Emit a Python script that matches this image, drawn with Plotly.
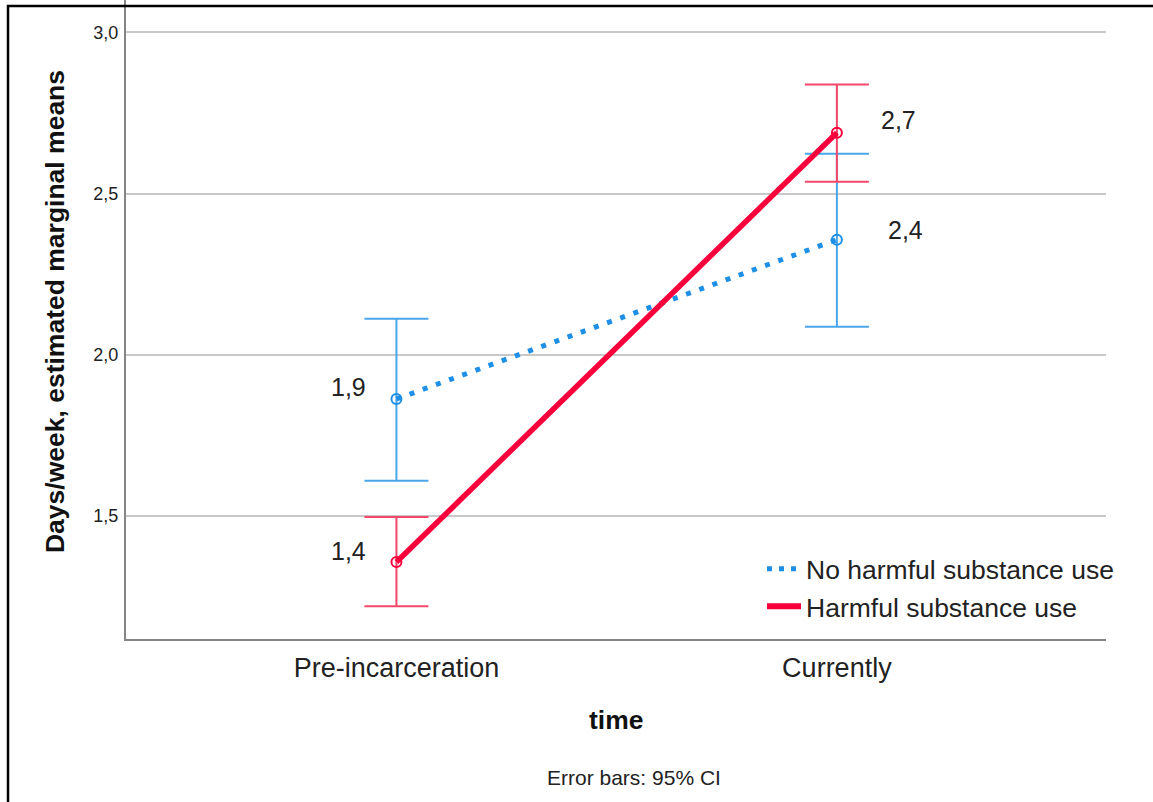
import plotly.graph_objects as go

# ---- data ----
time_points = ["Pre-incarceration", "Currently"]
x_pos = [0, 1]
series_names = ["No harmful substance use", "Harmful substance use"]
no_harm_mean = [1.863, 2.357]
no_harm_upper = [2.112, 2.624]
no_harm_lower = [1.609, 2.087]
harm_mean = [1.357, 2.689]
harm_upper = [1.497, 2.839]
harm_lower = [1.220, 2.537]
y_ticks = [1.5, 2.0, 2.5, 3.0]

BLUE = "#1e8fe6"
BLUE_EB = "#4aa6ea"
RED = "#f7003b"
RED_EB = "#f3476a"
FONT = "Liberation Sans, Arial, sans-serif"

fig = go.Figure()

def add_series(mean, upper, lower, color, eb_color, dash, width):
    fig.add_trace(go.Scatter(
        x=x_pos, y=mean, mode="lines+markers", showlegend=False,
        line=dict(color=color, width=width, dash=dash),
        marker=dict(symbol="circle-open", size=10, color=color, line=dict(width=2, color=color)),
        error_y=dict(type="data", symmetric=False,
                     array=[u - m for u, m in zip(upper, mean)],
                     arrayminus=[m - l for m, l in zip(mean, lower)],
                     color=eb_color, thickness=2, width=32),
    ))

add_series(no_harm_mean, no_harm_upper, no_harm_lower, BLUE, BLUE_EB, "5px,9px", 5)
add_series(harm_mean, harm_upper, harm_lower, RED, RED_EB, "solid", 5.5)

# legend-only traces
fig.add_trace(go.Scatter(x=[None], y=[None], mode="lines", name=series_names[0],
                         line=dict(color=BLUE, width=5, dash="5px,7px")))
fig.add_trace(go.Scatter(x=[None], y=[None], mode="lines", name=series_names[1],
                         line=dict(color=RED, width=6)))

def lab(v):
    return f"{v:.1f}".replace(".", ",")

# value labels
label_specs = [
    (0, no_harm_mean[0], "right", -28, 12),
    (0, harm_mean[0], "right", -28, 11),
    (1, harm_mean[1], "left", 42, 13),
    (1, no_harm_mean[1], "left", 49, 10),
]
for xv, yv, anc, xs, ys in label_specs:
    fig.add_annotation(x=xv, y=yv, text=lab(yv), showarrow=False, xanchor=anc,
                       xshift=xs, yshift=ys, font=dict(size=25, color="#222", family=FONT))

# axis title / footnote
fig.add_annotation(x=-0.0724, y=0.5117, xref="paper", yref="paper", textangle=-90,
                   text="<b>Days/week, estimated marginal means</b>", showarrow=False,
                   xanchor="center", yanchor="middle",
                   font=dict(size=26.5, color="#111", family=FONT))
fig.add_annotation(x=0.5, y=-0.1268, xref="paper", yref="paper",
                   text="<b>time</b>", showarrow=False, xanchor="center", yanchor="middle",
                   font=dict(size=26.5, color="#111", family=FONT))
fig.add_annotation(x=0.518, y=-0.216, xref="paper", yref="paper",
                   text="Error bars: 95% CI", showarrow=False, xanchor="center", yanchor="middle",
                   font=dict(size=21, color="#222", family=FONT))

# outer frame
fig.add_shape(type="rect", xref="paper", yref="paper", x0=-0.1204, x1=1.2, y0=-0.5, y1=0.9906,
              line=dict(color="black", width=2.5), fillcolor="rgba(0,0,0,0)", layer="above")

fig.update_layout(
    width=1153, height=802,
    margin=dict(l=126, r=47, t=0, b=163),
    paper_bgcolor="white", plot_bgcolor="white",
    separators=",.",
    font=dict(family=FONT, color="#222"),
    legend=dict(x=0.649, y=0.147, xanchor="left", yanchor="top",
                font=dict(size=26.5, color="#222", family=FONT),
                bgcolor="rgba(0,0,0,0)", tracegroupgap=0, itemwidth=34),
    xaxis=dict(range=[-0.614, 1.611], tickvals=x_pos, ticktext=time_points,
               showgrid=False, zeroline=False, showline=True, linecolor="#858585", linewidth=2,
               ticks="", tickfont=dict(size=27, color="#222", family=FONT),
               ticklabelstandoff=4),
    yaxis=dict(range=[1.1184, 3.1008], tickvals=y_ticks, tickformat=".1f",
               showgrid=True, gridcolor="#c8c8c8", gridwidth=2, zeroline=False,
               showline=True, linecolor="#858585", linewidth=2, ticks="",
               tickfont=dict(size=18, color="#222", family=FONT), ticklabelstandoff=2),
)

fig.write_html("out.html", config={"displayModeBar": False},
               post_script="document.body.style.margin='0';")
